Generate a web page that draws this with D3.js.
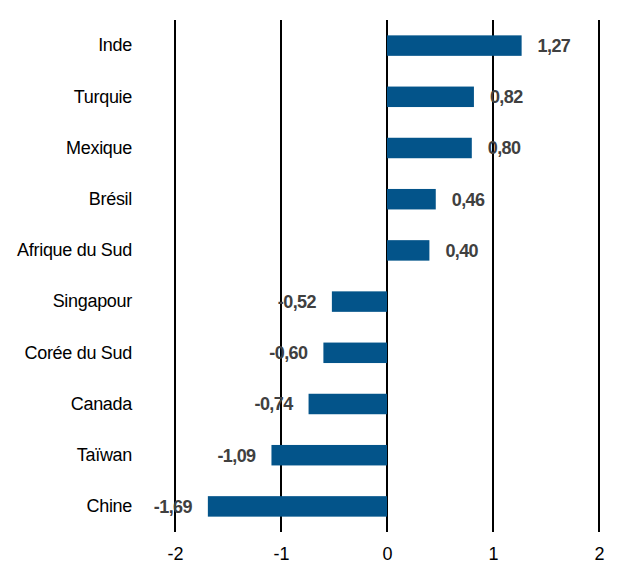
<!DOCTYPE html>
<html>
<head>
<meta charset="utf-8">
<script src="https://cdn.jsdelivr.net/npm/d3@7"></script>
<style>
  body { margin: 0; background: #fff; }
  svg { display: block; font-family: "Liberation Sans Narrow", "Liberation Sans", Arial, sans-serif; }
</style>
</head>
<body>
<svg id="chart" width="628" height="567"></svg>
<script>
var countries = ["Inde", "Turquie", "Mexique", "Brésil", "Afrique du Sud", "Singapour", "Corée du Sud", "Canada", "Taïwan", "Chine"];
var values = [1.27, 0.82, 0.80, 0.46, 0.40, -0.52, -0.60, -0.74, -1.09, -1.69];
var ticks = [-2, -1, 0, 1, 2];

var svg = d3.select("#chart");

var x = d3.scaleLinear().domain([-2, 2]).range([175, 599]);
var y = d3.scaleBand().domain(countries).range([20, 532]).paddingInner(0.6).paddingOuter(0.3);

// french decimals, plain hyphen for negatives
var fmt = function(v){ return v.toFixed(2).replace(".", ","); };

// vertical grid lines
svg.append("g")
  .selectAll("line")
  .data(ticks)
  .enter()
  .append("line")
  .attr("x1", function(d){ return x(d); })
  .attr("x2", function(d){ return x(d); })
  .attr("y1", 20)
  .attr("y2", 532)
  .attr("stroke", "#000")
  .attr("stroke-width", 2);

// x tick labels
var xAxis = d3.axisBottom(x).tickValues(ticks).tickSize(0).tickPadding(0)
  .tickFormat(function(d){ return String(d); });
var gx = svg.append("g").attr("transform", "translate(0,547)").call(xAxis);
gx.select(".domain").remove();
gx.selectAll("text").attr("font-size", 18).attr("fill", "#000")
  .attr("font-family", "Liberation Sans Narrow, Liberation Sans, Arial, sans-serif");

// category labels
var yAxis = d3.axisLeft(y).tickSize(0).tickPadding(0);
var gy = svg.append("g").attr("transform", "translate(132,0)").call(yAxis);
gy.select(".domain").remove();
gy.selectAll("text").attr("font-size", 18).attr("fill", "#000")
  .attr("letter-spacing", -0.3)
  .attr("font-family", "Liberation Sans Narrow, Liberation Sans, Arial, sans-serif");

// bars
svg.append("g")
  .selectAll("rect")
  .data(values)
  .enter()
  .append("rect")
  .attr("x", function(d){ return x(Math.min(0, d)); })
  .attr("y", function(d, i){ return y(countries[i]); })
  .attr("width", function(d){ return Math.abs(x(d) - x(0)); })
  .attr("height", y.bandwidth())
  .attr("fill", "#03548a");

// value labels
svg.append("g")
  .selectAll("text")
  .data(values)
  .enter()
  .append("text")
  .text(function(d){ return fmt(d); })
  .attr("x", function(d){ return d >= 0 ? x(d) + 16 : x(d) - 16; })
  .attr("y", function(d, i){ return y(countries[i]) + y.bandwidth() / 2; })
  .attr("dy", "0.36em")
  .attr("text-anchor", function(d){ return d >= 0 ? "start" : "end"; })
  .attr("font-size", 18)
  .attr("letter-spacing", -0.6)
  .attr("font-weight", "bold")
  .attr("fill", "#404040");
</script>
</body>
</html>
